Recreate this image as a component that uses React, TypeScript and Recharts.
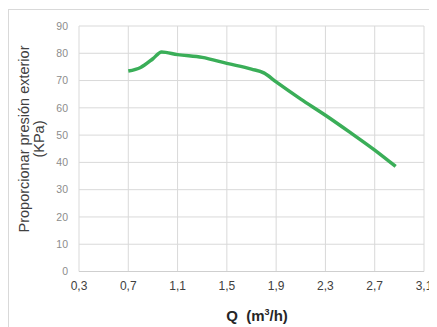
import React from "react";
import { LineChart, Line, XAxis, YAxis, CartesianGrid } from "recharts";

const flowQ = [0.7, 0.8, 0.9, 0.97, 1.1, 1.3, 1.5, 1.7, 1.8, 1.9, 2.1, 2.3, 2.5, 2.7, 2.87];
const pressure = [73.5, 74.8, 78, 80.5, 79.5, 78.5, 76.3, 74.2, 72.8, 69.5, 63.2, 57.3, 51, 44.5, 38.5];
const xTicks = [0.3, 0.7, 1.1, 1.5, 1.9, 2.3, 2.7, 3.1];
const yTicks = [0, 10, 20, 30, 40, 50, 60, 70, 80, 90];

const data = flowQ.map((q, i) => ({ q, p: pressure[i] }));

const FONT = "'Liberation Sans', Arial, sans-serif";

export default function App() {
  return (
    <div style={{ position: "relative", width: 429, height: 319, fontFamily: FONT }}>
      <div
        style={{
          position: "absolute",
          left: 0,
          top: 1,
          width: 440,
          height: 330,
          borderTop: "1px solid #d9d9d9",
          borderLeft: "1px solid #d9d9d9",
          boxSizing: "border-box",
        }}
      />
      <div style={{ position: "absolute", left: 0, top: 0 }}>
        <LineChart width={429} height={319} data={data} margin={{ top: 18, right: 13, bottom: 0, left: 0 }}>
          <CartesianGrid stroke="#d9d9d9" strokeWidth={1} />
          <XAxis
            dataKey="q"
            type="number"
            domain={[0.3, 3.1]}
            ticks={xTicks}
            interval={0}
            height={55.5}
            tickLine={false}
            axisLine={{ stroke: "#cfcfcf" }}
            tickMargin={4}
            tick={{ fill: "#404040", fontSize: 12, fontFamily: FONT }}
            tickFormatter={(v: number) => v.toFixed(1).replace(".", ",")}
          />
          <YAxis
            type="number"
            domain={[0, 90]}
            ticks={yTicks}
            interval={0}
            width={71}
            tickLine={false}
            axisLine={false}
            tickMargin={5}
            tick={{ fill: "#8c8c8c", fontSize: 10.5, fontFamily: FONT }}
          />
          <Line
            type="monotone"
            dataKey="p"
            stroke="#3aae58"
            strokeWidth={3.5}
            dot={false}
            isAnimationActive={false}
          />
        </LineChart>
      </div>
      <div
        style={{
          position: "absolute",
          left: 23.5 - 150,
          top: 131 - 15,
          width: 300,
          height: 30,
          textAlign: "center",
          transform: "rotate(-90deg)",
          fontSize: 14.5,
          lineHeight: "15px",
          color: "#404040",
        }}
      >
        Proporcionar presión exterior
        <br />
        (KPa)
      </div>
      <div
        style={{
          position: "absolute",
          left: 249 - 100,
          top: 299,
          width: 200,
          textAlign: "center",
          fontSize: 15,
          fontWeight: "bold",
          color: "#262626",
          whiteSpace: "pre",
        }}
      >
        {"Q  (m"}<sup style={{ fontSize: 9 }}>3</sup>{"/h)"}
      </div>
    </div>
  );
}
